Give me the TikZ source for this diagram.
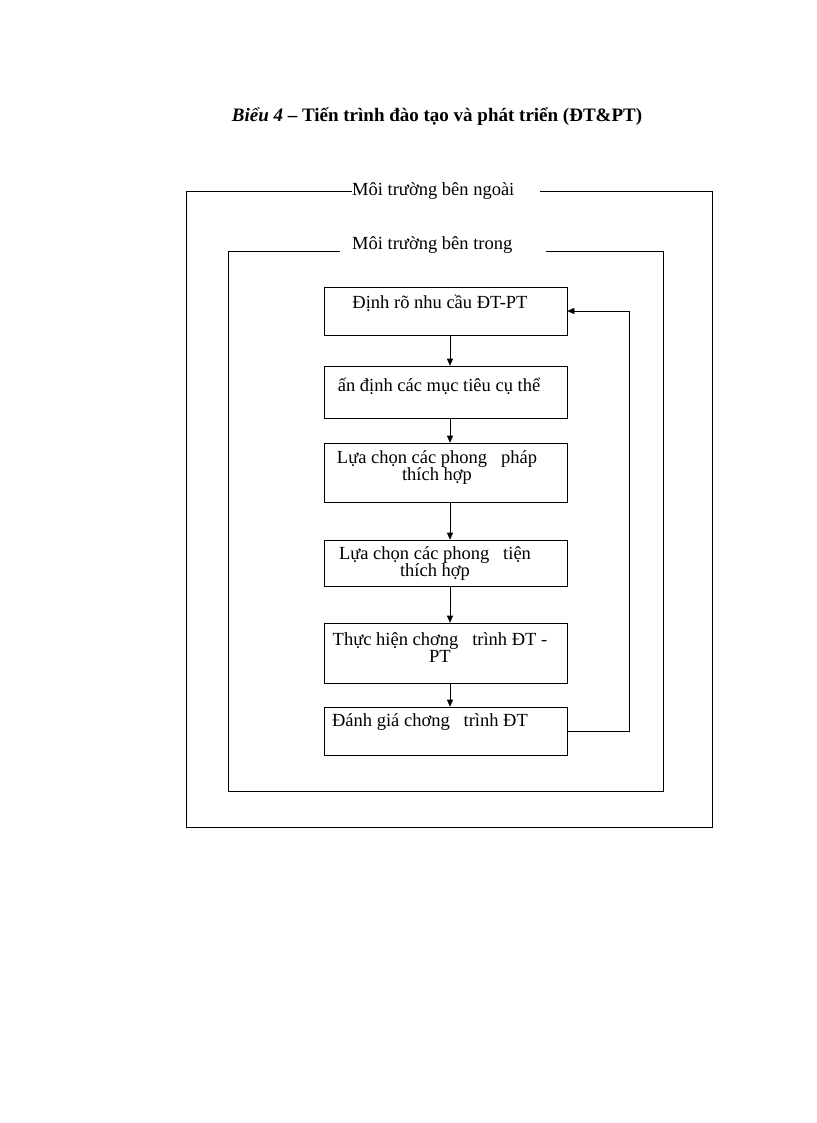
\documentclass[tikz,border=0pt]{standalone}
\usepackage{fontspec}
\setmainfont{Liberation Serif}
\usetikzlibrary{arrows.meta}
\begin{document}
\begin{tikzpicture}[x=1pt,y=-1pt,
  frame/.style={draw,line width=0.6pt},
  stepbox/.style={draw,line width=0.6pt,minimum width=243pt,inner sep=0pt},
  lbl/.style={font=\fontsize{18.5}{17}\selectfont,inner sep=0pt,align=center},
  arr/.style={-{Triangle[length=7pt,width=6pt]},line width=0.6pt}]
\useasboundingbox (0,0) rectangle (816,1123);
\node[font=\fontsize{19}{19}\selectfont\bfseries] (title) at (437,117) {\textit{Biểu 4} – Tiến trình đào tạo và phát triển (ĐT\&PT)};
% outer frame
\node[lbl,anchor=west,fill=white] (outl) at (352,191) {Môi trường bên ngoài};
\draw[frame] (outl.west) -- (186,191) -- (186,827) -- (712,827) -- (712,191) -- (540,191);
\node[lbl,anchor=west] (inl) at (352,245) {Môi trường bên trong};
\draw[frame] (340,251) -- (228,251) -- (228,791) -- (663,791) -- (663,251) -- (546,251);
% boxes
\node[stepbox,minimum height=48pt] (b1) at (445.5,311) {};
\node[stepbox,minimum height=52pt] (b2) at (445.5,392) {};
\node[stepbox,minimum height=59pt] (b3) at (445.5,472.5) {};
\node[stepbox,minimum height=46pt] (b4) at (445.5,563) {};
\node[stepbox,minimum height=60pt] (b5) at (445.5,653) {};
\node[stepbox,minimum height=48pt] (b6) at (445.5,731) {};
\node[lbl] (t1) at (440,303) {Định rõ nhu cầu ĐT-PT};
\node[lbl] (t2) at (439,386) {ấn định các mục tiêu cụ thể};
\node[lbl] (t3) at (437,468) {Lựa chọn các phong\ \ \ pháp\\thích hợp};
\node[lbl] (t4) at (435,564) {Lựa chọn các phong\ \ \ tiện\\thích hợp};
\node[lbl] (t5) at (440,648) {Thực hiện chơng\ \ \ trình ĐT -\\PT};
\node[lbl] (t6) at (430,722) {Đánh giá chơng\ \ \ trình ĐT};
\foreach \a/\b in {b1/b2,b2/b3,b3/b4,b4/b5,b5/b6}
  \draw[arr] (\a.south -| 450,0) -- (\b.north -| 450,0);
\coordinate (fb) at (629,731);
\draw[arr] (b6.east) -- (fb) |- (b1.east);
\end{tikzpicture}
\end{document}
